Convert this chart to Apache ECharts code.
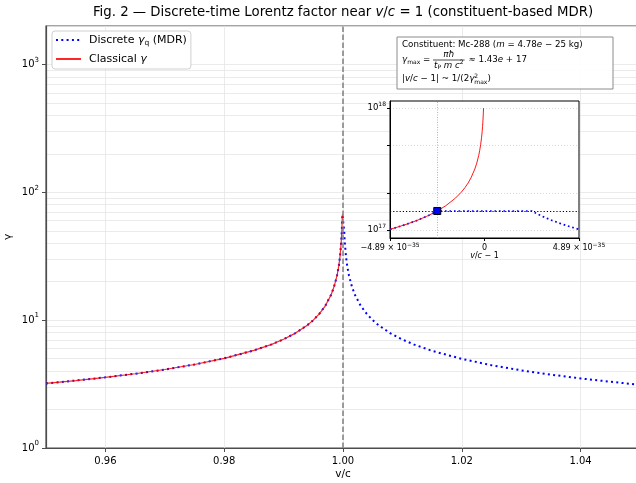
<!DOCTYPE html>
<html><head><meta charset="utf-8">
<script src="https://cdn.jsdelivr.net/npm/echarts@6/dist/echarts.min.js"></script>
<style>html,body{margin:0;padding:0;background:#fff}#c{width:636px;height:483px}</style>
</head><body><div id="c"></div>
<script>
// ---- main panel data ----
const vcLeft = [0.950,0.955,0.960,0.965,0.970,0.975,0.980,0.985,0.988,0.990,0.992,0.994,0.995,0.996,0.997,0.998,0.9985,0.999,0.9993,0.9995,0.9997,0.9998,0.9999];
const gammaLeft = [3.20,3.37,3.57,3.81,4.11,4.50,5.03,5.80,6.47,7.09,7.92,9.14,10.0,11.2,12.9,15.8,18.3,22.4,26.7,31.6,40.8,50.0,67];
const vcRight = [1.0001,1.0002,1.0003,1.0005,1.0007,1.001,1.0015,1.002,1.003,1.004,1.005,1.006,1.008,1.010,1.012,1.015,1.020,1.025,1.030,1.035,1.040,1.045,1.050];
const gammaRight = [67,50.0,40.8,31.6,26.7,22.4,18.3,15.8,12.9,11.2,10.0,9.12,7.89,7.05,6.44,5.75,4.98,4.44,4.05,3.75,3.50,3.30,3.12];
const xTicks = [0.96,0.98,1.00,1.02,1.04];
const yMajor = [1,10,100,1000];
const yMinor = [2,3,4,5,6,7,8,9,20,30,40,50,60,70,80,90,200,300,400,500,600,700,800,900,2000];
const vLine = 1.0;
// ---- inset data (x in units of 1e-35) ----
const insetEpsRed = [-4.89,-4.5,-4,-3.5,-3,-2.445,-2,-1.5,-1.2,-1,-0.85,-0.7,-0.5,-0.4,-0.3,-0.25,-0.2,-0.15,-0.12,-0.1,-0.085,-0.07,-0.06,-0.05];
const insetGammaRed = [1.011e17,1.054e17,1.118e17,1.195e17,1.291e17,1.430e17,1.581e17,1.826e17,2.041e17,2.236e17,2.425e17,2.673e17,3.162e17,3.536e17,4.083e17,4.472e17,5.0e17,5.774e17,6.455e17,7.071e17,7.670e17,8.452e17,9.129e17,1.0e18];
const insetEpsDisc = [-4.89,-4.5,-4,-3.5,-3,-2.7,-2.445,2.445,2.7,3,3.5,4,4.5,4.89];
const insetGammaDisc = [1.011e17,1.054e17,1.118e17,1.195e17,1.291e17,1.361e17,1.43e17,1.43e17,1.361e17,1.291e17,1.195e17,1.118e17,1.054e17,1.011e17];
const gammaMax = 1.43e17;
const epsStar = -2.445;
const insetXTicks = [-4.89,0,4.89];
const insetYTicks = [1e17,2e17,5e17,1e18];
const insetYLabels = [1e17,1e18];

const FONT = 'DejaVu Sans';
const mc = document.createElement('canvas').getContext('2d');
function W(t,s,it){ mc.font=(it?'italic ':'')+s+'px "DejaVu Sans"'; return mc.measureText(t).width; }
function T(x,y,t,s,it,z){ return {type:'text', x:x, y:y, z:z||21, silent:true,
  style:{text:t, fontSize:s, fontStyle:it?'italic':'normal', fontFamily:FONT, fill:'#000',
         align:'left', verticalAlign:'middle', textAlign:'left', textVerticalAlign:'middle'}}; }
function run(x,y,parts,z){ const out=[]; let cx=x; parts.forEach(p=>{ const s=p.s||A; if(p.back) cx-=p.back; out.push(T(cx,y+(p.dy||0),p.t,s,p.it,z)); cx+=W(p.t,s,p.it); }); return {els:out,x:cx}; }
function width(parts){ let w=0; parts.forEach(p=>{ if(p.back) w-=p.back; w+=W(p.t,p.s||A,p.it); }); return w; }
const A = 8.7, AS = 6;

const graphics = [];
// title
const TS = 13.3;
const titleParts = [{t:'Fig. 2 — Discrete-time Lorentz factor near ',s:TS},{t:'v',s:TS,it:true},{t:'/',s:TS},{t:'c',s:TS,it:true},{t:' = 1 (constituent-based MDR)',s:TS}];
graphics.push(...run(343 - width(titleParts)/2, 13, titleParts, 30).els);
// annotation box
graphics.push({type:'rect', z:20, silent:true, shape:{x:397,y:37,width:216,height:52}, style:{fill:'rgba(255,255,255,0.92)', stroke:'#8c8c8c', lineWidth:1}});
graphics.push(...run(402,45,[{t:'Constituent: Mc-288 ('},{t:'m',it:true},{t:' = 4.78'},{t:'e',it:true},{t:' − 25 kg)'}]).els);
let r2 = run(402,60,[{t:'γ',it:true},{t:'max',s:AS,dy:2.5},{t:' = '}]);
graphics.push(...r2.els);
const numParts=[{t:'πħ',it:true}];
const denParts=[{t:'t',it:true},{t:'P',s:AS,dy:2},{t:' m c',it:true},{t:'2',s:AS,dy:-3}];
const fw = Math.max(width(numParts),width(denParts))+2;
const fx = r2.x;
graphics.push(...run(fx+(fw-width(numParts))/2,54.5,numParts).els);
graphics.push(...run(fx+(fw-width(denParts))/2,65.5,denParts).els);
graphics.push({type:'line', z:21, silent:true, shape:{x1:fx,y1:60,x2:fx+fw,y2:60}, style:{stroke:'#000',lineWidth:0.7}});
graphics.push(...run(fx+fw+1,60,[{t:' ≈ 1.43'},{t:'e',it:true},{t:' + 17'}]).els);
graphics.push(...run(402,79,[{t:'|'},{t:'v',it:true},{t:'/'},{t:'c',it:true},{t:' − 1| ~ 1/(2'},{t:'γ',it:true},{t:'2',s:AS,dy:-3},{t:'max',s:AS,dy:3,back:W('2',AS)},{t:')'}]).els);

const sup7 = {fontSize:7, verticalAlign:'top', lineHeight:8, fontFamily:FONT, color:'#000'};
const sup6 = {fontSize:6, verticalAlign:'top', lineHeight:6, fontFamily:FONT, color:'#000'};
const axCol = '#4d4d4d';
const gridCol = '#e6e6e6';

const option = {
  animation:false,
  textStyle:{fontFamily:FONT},
  grid:[
    {left:46, top:26, right:-4, bottom:35, show:true, borderColor:axCol, borderWidth:1.2, backgroundColor:'rgba(0,0,0,0)', outerBoundsMode:'none', containLabel:false},
    {left:390, top:101, width:189, height:137, show:true, borderColor:'#000', borderWidth:1, backgroundColor:'#fff', z:5, outerBoundsMode:'none', containLabel:false}
  ],
  xAxis:[
    {gridIndex:0, type:'value', min:0.95, max:1.05, name:'v/c', nameLocation:'middle', nameGap:21, nameMoveOverlap:false,
     nameTextStyle:{fontSize:10.5, color:'#000', fontFamily:FONT},
     axisLine:{onZero:false, lineStyle:{color:axCol, width:1.2}},
     axisTick:{customValues:xTicks, length:4, lineStyle:{color:axCol}},
     axisLabel:{customValues:xTicks, formatter:v=>v.toFixed(2), fontSize:10, color:'#000', margin:8, fontFamily:FONT},
     splitLine:{show:true, lineStyle:{color:gridCol, width:0.8}}},
    {gridIndex:1, type:'value', min:-4.89, max:4.89, z:6, name:'{i|v}/{i|c} − 1', nameLocation:'middle', nameGap:14, nameMoveOverlap:false,
     nameTextStyle:{fontSize:8, color:'#000', fontFamily:FONT, rich:{i:{fontStyle:'italic', fontSize:8, fontFamily:FONT}}},
     axisLine:{onZero:false, lineStyle:{color:'#000', width:1}},
     axisTick:{customValues:insetXTicks, length:3, lineStyle:{color:'#000'}},
     axisLabel:{customValues:insetXTicks, fontSize:8, color:'#000', margin:4, lineHeight:12, fontFamily:FONT, rich:{sup:sup6},
       formatter:v=> Math.abs(v)<1e-9 ? '0' : (v<0?'−':'')+'4.89 × 10{sup|−35}'},
     splitLine:{show:false}}
  ],
  yAxis:[
    {gridIndex:0, type:'log', logBase:10, min:1, max:2000, name:'γ', nameLocation:'middle', nameGap:32, nameRotate:90, nameMoveOverlap:false,
     nameTextStyle:{fontSize:10.5, color:'#000', fontFamily:FONT},
     axisLine:{show:true, onZero:false, lineStyle:{color:axCol, width:1.2}},
     axisTick:{customValues:yMajor, length:4, lineStyle:{color:axCol}},
     axisLabel:{customValues:yMajor, fontSize:10, color:'#000', margin:7, lineHeight:16, fontFamily:FONT, rich:{sup:sup7},
       formatter:v=>'10{sup|'+Math.round(Math.log10(v))+'}'},
     splitLine:{show:true, lineStyle:{color:gridCol, width:0.8}}},
    {gridIndex:0, type:'log', logBase:10, min:1, max:2000,
     axisLine:{show:false, onZero:false}, axisTick:{customValues:yMinor, length:2, lineStyle:{color:axCol}},
     axisLabel:{show:false}, splitLine:{show:true, lineStyle:{color:gridCol, width:0.8}}},
    {gridIndex:1, type:'log', logBase:10, min:8.58e16, max:1.144e18, z:6,
     axisLine:{show:true, onZero:false, lineStyle:{color:'#000', width:1}},
     axisTick:{customValues:insetYTicks, length:3, lineStyle:{color:'#000'}},
     axisLabel:{customValues:insetYLabels, fontSize:8.5, color:'#000', margin:4, lineHeight:13, fontFamily:FONT, rich:{sup:sup6},
       formatter:v=>'10{sup|'+Math.round(Math.log10(v))+'}'},
     splitLine:{show:true, lineStyle:{color:'#d0d0d0', width:0.8, type:[1,2]}}}
  ],
  legend:{
    data:['Discrete γq (MDR)','Classical γ'], orient:'vertical', left:52, top:31,
    backgroundColor:'#fff', borderColor:'#d0d0d0', borderWidth:1, borderRadius:3, padding:[2,4,3,3],
    itemWidth:25, itemHeight:12, itemGap:5, z:10,
    itemStyle:{opacity:0, borderWidth:0},
    textStyle:{fontSize:11, color:'#000', fontFamily:FONT, lineHeight:14, padding:[0,0,0,3],
      rich:{i:{fontStyle:'italic',fontSize:11,fontFamily:FONT}, sub:{fontSize:7.5, verticalAlign:'bottom', lineHeight:8, fontFamily:FONT}}},
    formatter:n=> n==='Classical γ' ? 'Classical {i|γ}' : 'Discrete {i|γ}{sub|q} (MDR)'
  },
  graphic:{elements:graphics},
  series:[
    {name:'Discrete γq (MDR)', type:'line', xAxisIndex:0, yAxisIndex:0, z:2, symbol:'none', showSymbol:false,
     data: vcLeft.map((v,i)=>[v,gammaLeft[i]]).concat(vcRight.map((v,i)=>[v,gammaRight[i]])),
     itemStyle:{color:'#0000ff'}, lineStyle:{color:'#0000ff', width:2, type:[2,3.3]}},
    {name:'Classical γ', type:'line', xAxisIndex:0, yAxisIndex:0, z:3, symbol:'none', showSymbol:false,
     data: vcLeft.map((v,i)=>[v,gammaLeft[i]]),
     itemStyle:{color:'#ff0000'}, lineStyle:{color:'#ff0000', width:1.2, opacity:0.85},
     markLine:{silent:true, symbol:'none', z:4, label:{show:false}, lineStyle:{color:'#7f7f7f', type:[5.5,2.5], width:1.5}, data:[{xAxis:vLine}]}},
    {name:'insetDisc', type:'line', xAxisIndex:1, yAxisIndex:2, z:7, symbol:'none', showSymbol:false,
     data: insetEpsDisc.map((v,i)=>[v,insetGammaDisc[i]]),
     itemStyle:{color:'#0000ff'}, lineStyle:{color:'#0000ff', width:1.7, type:[1.7,2.8]},
     markLine:{silent:true, symbol:'none', z:7, label:{show:false}, lineStyle:{color:'#000', type:[1.2,2], width:1}, data:[{yAxis:gammaMax}]}},
    {name:'insetRed', type:'line', xAxisIndex:1, yAxisIndex:2, z:8, symbol:'none', showSymbol:false,
     data: insetEpsRed.map((v,i)=>[v,insetGammaRed[i]]),
     itemStyle:{color:'#ff0000'}, lineStyle:{color:'#ff0000', width:1, opacity:0.9},
     markLine:{silent:true, symbol:'none', z:7, label:{show:false}, lineStyle:{color:'#a0a0a0', type:[1,1.5], width:0.8}, data:[{xAxis:epsStar}]}},
    {name:'insetMark', type:'scatter', xAxisIndex:1, yAxisIndex:2, z:9, symbol:'rect', symbolSize:7,
     data:[[epsStar,gammaMax]], itemStyle:{color:'#0000ff', borderColor:'#000', borderWidth:1, opacity:1}}
  ]
};
const chart = echarts.init(document.getElementById('c'), null, {renderer:'canvas'});
chart.setOption(option);
</script>
</body></html>
